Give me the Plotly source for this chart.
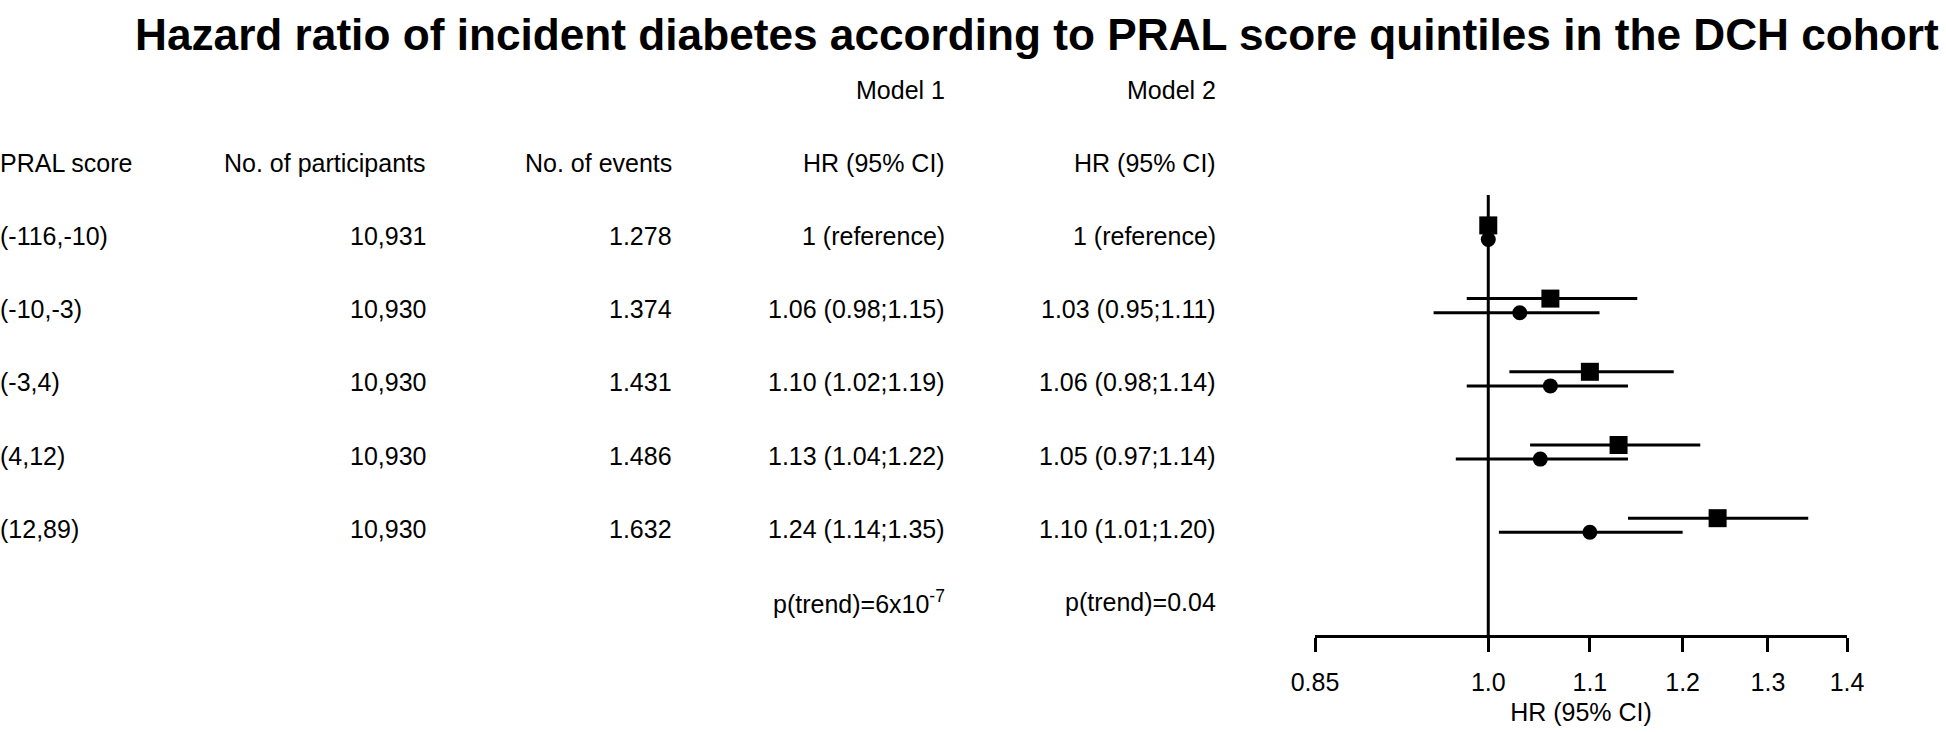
import math
import plotly.graph_objects as go

# ---------------- data ----------------
pral_groups = ["(-116,-10)", "(-10,-3)", "(-3,4)", "(4,12)", "(12,89)"]
n_participants = ["10,931", "10,930", "10,930", "10,930", "10,930"]
n_events = ["1.278", "1.374", "1.431", "1.486", "1.632"]

m1_hr = [1.00, 1.06, 1.10, 1.13, 1.24]
m1_lo = [1.00, 0.98, 1.02, 1.04, 1.14]
m1_hi = [1.00, 1.15, 1.19, 1.22, 1.35]
m1_text = ["1 (reference)", "1.06 (0.98;1.15)", "1.10 (1.02;1.19)", "1.13 (1.04;1.22)", "1.24 (1.14;1.35)"]

m2_hr = [1.00, 1.03, 1.06, 1.05, 1.10]
m2_lo = [1.00, 0.95, 0.98, 0.97, 1.01]
m2_hi = [1.00, 1.11, 1.14, 1.14, 1.20]
m2_text = ["1 (reference)", "1.03 (0.95;1.11)", "1.06 (0.98;1.14)", "1.05 (0.97;1.14)", "1.10 (1.01;1.20)"]

p_trend = ["p(trend)=6x10<sup>-7</sup>", "p(trend)=0.04"]

tick_vals = [0.85, 1.0, 1.1, 1.2, 1.3, 1.4]
tick_text = ["0.85", "1.0", "1.1", "1.2", "1.3", "1.4"]

title = "Hazard ratio of incident diabetes according to PRAL score quintiles in the DCH cohort"

# ---------------- layout helpers ----------------
W, H = 1946, 732
rows = [1, 2, 3, 4, 5]
ROW_PX = 73.2
ROW0_PX = 162.8  # pixel of row 0 (column header row)
y_top = -ROW0_PX / ROW_PX
y_bot = (H - ROW0_PX) / ROW_PX

def r_of_px(p):
    return (p - ROW0_PX) / ROW_PX

FONT = "Liberation Sans, Arial, sans-serif"
BLACK = "#000000"
FS = 25

fig = go.Figure()

# reference line at HR = 1
fig.add_trace(go.Scatter(
    x=[1, 1], y=[r_of_px(195), r_of_px(636)], mode="lines",
    line=dict(color=BLACK, width=3), hoverinfo="skip"))

# Model 1 (squares)
fig.add_trace(go.Scatter(
    x=m1_hr, y=[r - 0.145 for r in rows], mode="markers",
    marker=dict(symbol="square", size=18, color=BLACK),
    error_x=dict(type="data", symmetric=False,
                 array=[h - m for h, m in zip(m1_hi, m1_hr)],
                 arrayminus=[m - l for m, l in zip(m1_hr, m1_lo)],
                 width=0, thickness=3, color=BLACK),
    name="Model 1"))

# Model 2 (circles)
fig.add_trace(go.Scatter(
    x=m2_hr, y=[r + 0.048 for r in rows], mode="markers",
    marker=dict(symbol="circle", size=15, color=BLACK),
    error_x=dict(type="data", symmetric=False,
                 array=[h - m for h, m in zip(m2_hi, m2_hr)],
                 arrayminus=[m - l for m, l in zip(m2_hr, m2_lo)],
                 width=0, thickness=3, color=BLACK),
    name="Model 2"))

annotations = []

def add_text(text, x_px, row, anchor, size=FS):
    annotations.append(dict(
        text=text, x=x_px / W, xref="paper", y=row, yref="y",
        xanchor=anchor, yanchor="middle", showarrow=False,
        font=dict(family=FONT, size=size, color=BLACK)))

# title
annotations.append(dict(
    text=title, x=133 / W, xref="paper", y=1 - 34 / H, yref="paper",
    xanchor="left", yanchor="middle", showarrow=False,
    font=dict(family=FONT, size=44.2, color=BLACK, weight="bold")))

COL_PRAL = -2
COL_PART = 428
COL_EVT = 674
COL_M1 = 947
COL_M2 = 1218

add_text("Model 1", COL_M1, -1, "right")
add_text("Model 2", COL_M2, -1, "right")
add_text("PRAL score", COL_PRAL, 0, "left")
add_text("No. of participants", COL_PART, 0, "right")
add_text("No. of events", COL_EVT, 0, "right")
add_text("HR (95% CI)", COL_M1, 0, "right")
add_text("HR (95% CI)", COL_M2, 0, "right")

for i, r in enumerate(rows):
    add_text(pral_groups[i], COL_PRAL, r, "left")
    add_text(n_participants[i], COL_PART, r, "right")
    add_text(n_events[i], COL_EVT, r, "right")
    add_text(m1_text[i], COL_M1, r, "right")
    add_text(m2_text[i], COL_M2, r, "right")

add_text(p_trend[0], COL_M1, 6, "right")
add_text(p_trend[1], COL_M2, 6, "right")

fig.update_layout(
    width=W, height=H,
    margin=dict(l=0, r=0, t=0, b=0, pad=0, autoexpand=False),
    paper_bgcolor="white", plot_bgcolor="white",
    showlegend=False,
    annotations=annotations,
    xaxis=dict(
        type="log",
        domain=[1315 / W, 1847 / W],
        range=[math.log10(0.85), math.log10(1.4)],
        anchor="free", position=1 - 636 / H,
        automargin=False,
        showline=True, linewidth=3, linecolor=BLACK,
        ticks="outside", ticklen=14, tickwidth=3, tickcolor=BLACK,
        tickvals=tick_vals, ticktext=tick_text,
        ticklabelstandoff=9,
        tickfont=dict(family=FONT, size=FS, color=BLACK),
        showgrid=False, zeroline=False,
        title=dict(text="HR (95% CI)", font=dict(family=FONT, size=FS, color=BLACK), standoff=8),
    ),
    yaxis=dict(range=[y_bot, y_top], domain=[0, 1], visible=False,
               automargin=False, showgrid=False, zeroline=False),
)

fig.write_html("out.html",
               config={"displayModeBar": False},
               post_script="document.body.style.margin='0';document.body.style.overflow='hidden';")
